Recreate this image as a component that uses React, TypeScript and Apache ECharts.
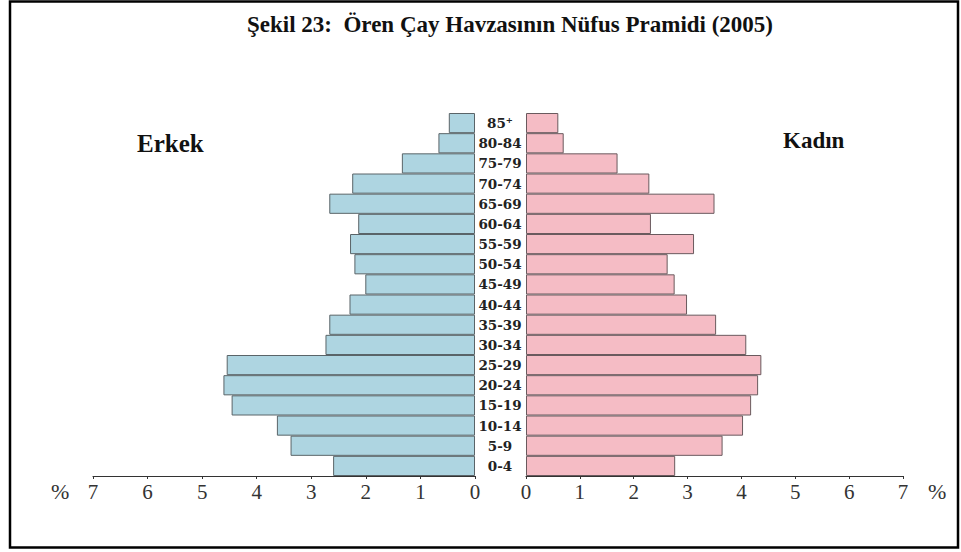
import React, { useEffect, useRef } from "react";
import * as echarts from "echarts";

const ageGroups = ["0-4", "5-9", "10-14", "15-19", "20-24", "25-29", "30-34", "35-39", "40-44", "45-49", "50-54", "55-59", "60-64", "65-69", "70-74", "75-79", "80-84", "85⁺"];
const maleValues = [2.6, 3.38, 3.63, 4.46, 4.61, 4.55, 2.74, 2.67, 2.3, 2.01, 2.21, 2.29, 2.14, 2.67, 2.25, 1.34, 0.67, 0.48];
const femaleValues = [2.77, 3.65, 4.03, 4.18, 4.31, 4.37, 4.09, 3.53, 2.99, 2.76, 2.63, 3.12, 2.32, 3.5, 2.29, 1.7, 0.7, 0.6];
const axisMin = 0;
const axisMax = 7;
const titleText = "Şekil 23:  Ören Çay Havzasının Nüfus Pramidi (2005)";
const maleLabel = "Erkek";
const femaleLabel = "Kadın";

export default function App() {
  const ref = useRef<HTMLDivElement>(null);
  useEffect(() => {
    if (!ref.current) return;
    const chart = echarts.init(ref.current, null, { renderer: "svg" });
    const serif = "'Liberation Serif', 'Times New Roman', serif";
    const valueAxisCommon = {
      type: "value",
      min: axisMin,
      max: axisMax,
      interval: 1,
      splitLine: { show: false },
      axisLine: { show: true, lineStyle: { color: "#333", width: 1.2 } },
      axisTick: { show: true, length: 3, lineStyle: { color: "#333" } },
      axisLabel: { fontFamily: serif, fontSize: 21, color: "#333", margin: 5 },
    };
    chart.setOption({
      animation: false,
      backgroundColor: "#fff",
      title: {
        text: titleText,
        left: 505,
        textAlign: "center",
        top: 8,
        textStyle: { fontFamily: serif, fontWeight: "bold", fontSize: 23, color: "#111" },
      },
      grid: [
        { left: 93, width: 382, top: 113, height: 363 },
        { left: 526, width: 377, top: 113, height: 363 },
      ],
      xAxis: [
        { ...valueAxisCommon, gridIndex: 0, inverse: true },
        { ...valueAxisCommon, gridIndex: 1 },
      ],
      yAxis: [
        {
          type: "category",
          gridIndex: 0,
          data: ageGroups,
          axisLine: { show: false },
          axisTick: { show: false },
          axisLabel: { show: false },
        },
        {
          type: "category",
          gridIndex: 1,
          data: ageGroups,
          position: "left",
          axisLine: { show: false },
          axisTick: { show: false },
          axisLabel: {
            show: true,
            align: "center",
            margin: 26,
            fontFamily: "DejaVu Serif",
            fontWeight: "bold",
            fontSize: 13.5,
            color: "#222",
          },
        },
      ],
      series: [
        {
          type: "bar",
          xAxisIndex: 0,
          yAxisIndex: 0,
          data: maleValues,
          barCategoryGap: "0%",
          itemStyle: { color: "#aed5e1", borderColor: "#5a6468", borderWidth: 1 },
        },
        {
          type: "bar",
          xAxisIndex: 1,
          yAxisIndex: 1,
          data: femaleValues,
          barCategoryGap: "0%",
          itemStyle: { color: "#f5bcc5", borderColor: "#6a5a5e", borderWidth: 1 },
        },
      ],
      graphic: [
        {
          type: "rect",
          shape: { x: 10, y: 1.5, width: 948, height: 546 },
          style: { fill: "none", stroke: "#000", lineWidth: 2.5 },
        },
        {
          type: "text",
          x: 137,
          y: 131,
          style: { text: maleLabel, fontFamily: serif, fontWeight: "bold", fontSize: 25, fill: "#111" },
        },
        {
          type: "text",
          x: 783,
          y: 129,
          style: { text: femaleLabel, fontFamily: serif, fontWeight: "bold", fontSize: 23, fill: "#111" },
        },
        {
          type: "text",
          x: 51,
          y: 480,
          style: { text: "%", fontFamily: serif, fontSize: 22, fill: "#333" },
        },
        {
          type: "text",
          x: 928,
          y: 480,
          style: { text: "%", fontFamily: serif, fontSize: 22, fill: "#333" },
        },
      ],
    });
    return () => chart.dispose();
  }, []);
  return (
    <div
      ref={ref}
      style={{ position: "fixed", left: 0, top: 0, width: 961, height: 552 }}
    />
  );
}
